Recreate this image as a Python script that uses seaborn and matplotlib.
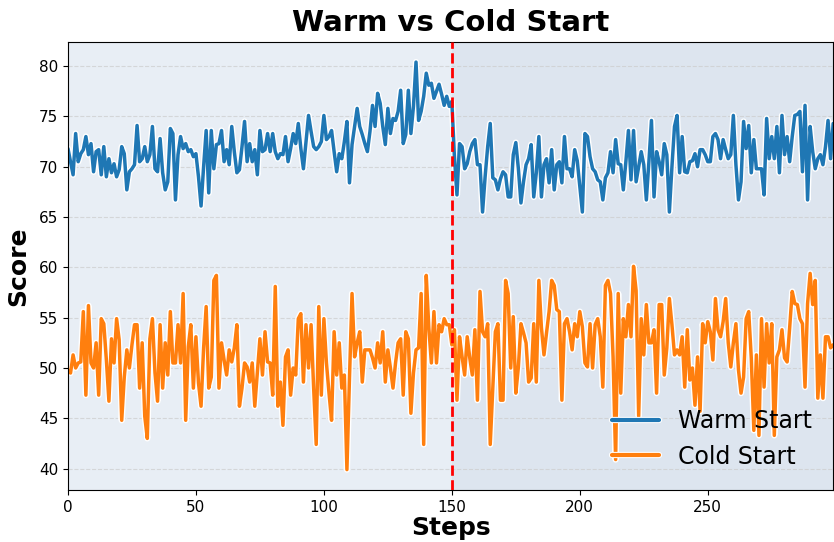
import numpy as np
import pandas as pd
import matplotlib
matplotlib.use("Agg")
import matplotlib.pyplot as plt
import matplotlib.patheffects as pe
import seaborn as sns

# values, one per step
warm_scores = [
    71.8, 70.5, 69.2, 73.3, 70.5, 71.3, 71.7, 73.0, 71.2, 72.3,
    69.5, 71.5, 71.7, 69.2, 72.0, 69.0, 70.8, 69.4, 70.3, 69.0,
    69.7, 72.0, 71.3, 67.7, 69.5, 69.8, 70.2, 74.1, 70.5, 70.8,
    72.0, 70.5, 71.2, 74.0, 69.8, 69.5, 72.8, 69.4, 67.7, 68.5,
    73.8, 73.3, 66.7, 71.2, 73.0, 71.8, 72.3, 71.5, 71.7, 71.0,
    71.3, 69.0, 66.1, 70.0, 73.6, 67.4, 73.6, 69.8, 72.2, 72.3,
    73.6, 70.5, 71.7, 70.2, 74.0, 71.5, 69.4, 69.7, 72.0, 74.5,
    70.5, 72.3, 70.5, 71.7, 69.2, 73.6, 71.5, 71.7, 73.3, 71.5,
    73.3, 71.5, 70.8, 71.3, 71.2, 73.0, 70.5, 71.8, 73.3, 72.3,
    74.3, 71.8, 69.8, 72.5, 75.1, 73.5, 72.0, 71.7, 72.0, 72.5,
    75.1, 72.7, 73.0, 73.6, 71.5, 69.5, 71.3, 70.8, 72.5, 74.5,
    68.4, 72.2, 74.0, 75.8, 74.0, 73.2, 72.3, 71.5, 73.5, 76.1,
    74.0, 77.3, 76.3, 74.0, 72.2, 75.8, 73.3, 74.8, 74.6, 75.5,
    77.6, 72.3, 73.2, 77.6, 73.3, 76.0, 80.4, 74.6, 75.5, 77.0,
    79.3, 78.1, 78.3, 76.8, 77.5, 78.2, 77.2, 76.1, 77.0, 76.0,
    76.5, 71.0, 67.2, 72.3, 72.0, 69.8, 70.3, 71.5, 72.3, 72.7,
    70.2, 70.2, 65.5, 69.0, 72.0, 74.3, 68.9, 68.7, 67.7, 68.8,
    69.5, 69.2, 67.0, 67.0, 71.2, 72.4, 69.8, 66.4, 68.5, 70.2,
    70.8, 72.2, 67.0, 69.4, 73.0, 67.0, 70.2, 70.8, 68.4, 71.7,
    67.7, 70.2, 70.5, 68.4, 73.0, 69.8, 69.8, 69.0, 71.7, 70.6,
    68.0, 65.5, 73.3, 73.0, 71.0, 69.8, 69.5, 68.7, 68.5, 66.7,
    68.9, 69.4, 71.5, 69.4, 72.7, 70.3, 70.2, 67.7, 70.5, 73.6,
    68.7, 73.6, 68.5, 70.0, 71.5, 70.2, 66.7, 70.5, 74.6, 67.0,
    71.5, 70.5, 69.2, 72.3, 71.2, 65.5, 70.0, 74.0, 75.1, 69.4,
    73.0, 69.5, 69.4, 70.5, 70.6, 71.3, 70.0, 71.7, 71.7, 71.2,
    70.5, 70.5, 73.0, 73.3, 72.7, 70.8, 72.7, 71.7, 70.8, 71.2,
    75.1, 70.2, 66.7, 68.5, 74.5, 71.8, 74.1, 69.4, 72.7, 69.8,
    69.8, 69.8, 67.2, 74.8, 70.8, 73.0, 70.8, 74.0, 69.4, 75.1,
    71.2, 73.0, 70.5, 73.0, 75.1, 75.2, 75.5, 69.5, 76.1, 66.7,
    74.0, 71.5, 69.8, 70.8, 71.2, 70.2, 72.0, 74.6, 70.8, 74.3,
]

cold_scores = [
    49.8, 49.5, 51.3, 50.0, 50.5, 50.6, 55.6, 47.3, 56.2, 50.5,
    50.0, 52.5, 47.3, 54.9, 54.4, 50.8, 46.7, 52.9, 50.5, 54.9,
    52.8, 44.8, 49.1, 51.8, 50.0, 52.3, 54.3, 54.3, 48.0, 52.5,
    45.2, 43.0, 52.9, 54.9, 49.5, 46.7, 54.3, 48.0, 52.5, 49.3,
    55.6, 50.5, 50.5, 54.3, 50.5, 57.4, 44.8, 52.1, 54.3, 48.0,
    53.1, 48.5, 46.2, 52.0, 56.1, 48.0, 49.1, 58.7, 59.2, 48.0,
    52.5, 50.8, 49.3, 51.8, 50.6, 52.0, 54.3, 46.2, 48.0, 50.5,
    50.1, 48.6, 50.5, 46.2, 49.5, 52.9, 49.3, 53.6, 50.6, 50.5,
    47.3, 58.1, 46.2, 48.6, 44.3, 51.1, 51.8, 47.3, 50.0, 49.3,
    54.9, 55.4, 48.6, 54.3, 50.0, 54.3, 48.0, 42.4, 56.1, 47.3,
    54.9, 50.5, 47.5, 44.8, 53.6, 49.3, 52.5, 48.0, 49.3, 39.9,
    49.0, 57.4, 51.1, 52.5, 53.6, 48.6, 51.8, 51.8, 51.8, 51.0,
    50.0, 52.5, 50.5, 53.6, 48.6, 51.8, 50.0, 48.0, 50.5, 52.5,
    52.9, 47.3, 53.6, 52.9, 45.5, 49.5, 51.8, 52.0, 57.4, 42.4,
    59.2, 54.0, 50.5, 55.6, 50.5, 54.3, 53.6, 54.9, 54.3, 54.3,
    52.3, 53.8, 46.8, 53.1, 51.1, 49.3, 53.1, 51.0, 49.3, 53.8,
    46.8, 57.6, 53.6, 53.1, 54.4, 42.4, 48.0, 53.6, 54.4, 46.8,
    46.8, 58.7, 57.4, 50.0, 55.1, 47.5, 50.1, 54.4, 53.5, 52.5,
    48.6, 49.0, 54.4, 48.6, 58.7, 54.0, 51.3, 53.5, 55.6, 58.7,
    58.2, 55.8, 55.6, 46.8, 54.4, 54.9, 53.6, 51.8, 54.4, 53.1,
    55.6, 54.1, 50.5, 50.1, 54.4, 50.0, 54.3, 54.9, 53.1, 48.1,
    58.2, 58.7, 57.4, 51.1, 40.9, 57.4, 47.5, 54.9, 53.1, 56.3,
    53.1, 60.1, 57.7, 45.2, 54.9, 51.3, 56.3, 52.5, 52.5, 53.8,
    47.5, 56.3, 56.3, 49.3, 52.0, 56.9, 54.3, 51.3, 51.8, 51.3,
    53.1, 48.1, 53.8, 48.8, 50.0, 46.3, 51.1, 45.7, 54.4, 52.5,
    54.6, 53.6, 50.8, 56.9, 53.8, 53.1, 54.6, 56.9, 52.5, 50.1,
    52.5, 54.4, 49.8, 47.5, 49.1, 54.9, 55.6, 51.0, 43.8, 51.3,
    43.3, 54.9, 48.1, 54.4, 50.5, 54.4, 43.3, 51.1, 51.8, 53.8,
    51.0, 50.6, 54.0, 57.6, 56.4, 56.3, 54.9, 54.4, 48.1, 56.4,
    59.4, 56.3, 58.7, 47.0, 51.3, 47.0, 53.1, 53.1, 52.0, 52.3,
]

steps = np.arange(len(warm_scores))
switch_step = 150

df = pd.DataFrame({
    "Steps": np.concatenate([steps, steps]),
    "Score": warm_scores + cold_scores,
    "Run": ["Warm Start"] * len(steps) + ["Cold Start"] * len(steps),
})

sns.set_style("ticks")
plt.rcParams["font.family"] = ["DejaVu Sans"]
plt.rcParams["text.color"] = "black"
plt.rcParams["axes.labelcolor"] = "black"
plt.rcParams["xtick.color"] = "black"
plt.rcParams["ytick.color"] = "black"

fig, ax = plt.subplots(figsize=(8.34, 5.42), dpi=100)

ax.axvspan(0, switch_step, color="#e8eef5", zorder=0, lw=0)
ax.axvspan(switch_step, steps[-1], color="#dde5ef", zorder=0, lw=0)

sns.lineplot(data=df, x="Steps", y="Score", hue="Run",
             palette=["#1f77b4", "#ff7f0e"], linewidth=2.5, ax=ax,
             path_effects=[pe.Stroke(linewidth=4.5, foreground="white"), pe.Normal()])

ax.axvline(switch_step, color="red", linestyle="--", linewidth=2, zorder=5)

ax.set_xlim(0, steps[-1])
ax.yaxis.grid(True, linestyle="--", color="#cccccc", alpha=0.7, linewidth=0.8)
ax.set_axisbelow(True)

ax.set_title("Warm vs Cold Start", fontsize=21, fontweight="bold", color="black", pad=8)
ax.set_xlabel("Steps", fontsize=18, fontweight="bold", labelpad=1)
ax.set_ylabel("Score", fontsize=18, fontweight="bold", labelpad=6)
ax.tick_params(labelsize=11)
for s in ax.spines.values():
    s.set_color("black")

leg = ax.legend(loc="lower right", fontsize=17, frameon=False)
for line in leg.get_lines():
    line.set_linewidth(3)

fig.subplots_adjust(left=0.0815, right=0.999, top=0.923, bottom=0.096)
plt.savefig("out.png", dpi=100)
